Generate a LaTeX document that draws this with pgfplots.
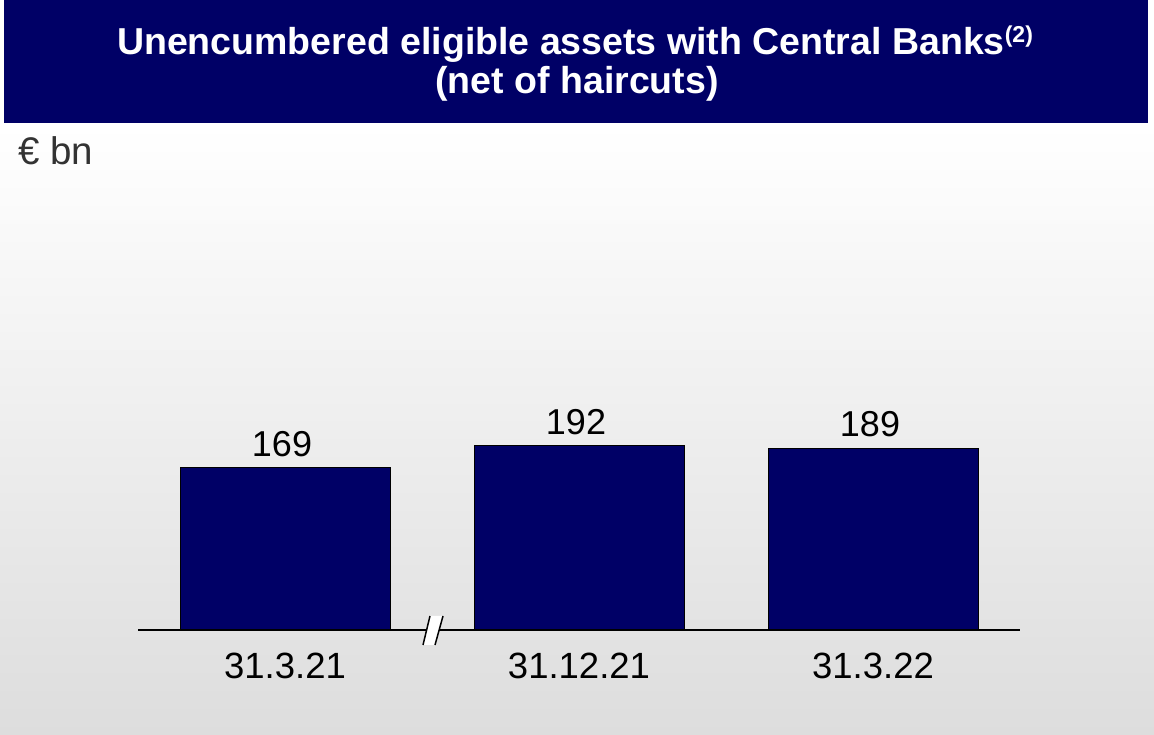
\documentclass[border=0pt]{standalone}
\usepackage{fontspec}
\setmainfont{Liberation Sans}
\usepackage{pgfplots}
\pgfplotsset{compat=1.18}
\definecolor{navy}{RGB}{0,0,102}
\definecolor{bgbottom}{RGB}{221,221,221}
\definecolor{txtgray}{RGB}{51,51,51}
\begin{document}
\begin{tikzpicture}[x=1pt,y=1pt]
\fill[white] (0,0) rectangle (1154,735);
\shade[top color=white,bottom color=bgbottom] (0,0) rectangle (1154,610);
\fill[navy] (4,612) rectangle (1148,735);
\node[anchor=base,text=white,font=\fontsize{37.5}{40}\selectfont\bfseries,inner sep=0pt] at (575,680) {Unencumbered eligible assets with Central Banks\raisebox{12pt}{\fontsize{23}{23}\selectfont(2)}};
\node[anchor=base,text=white,font=\fontsize{37.5}{40}\selectfont\bfseries,inner sep=0pt] at (577,641) {(net of haircuts)};
\node[anchor=base west,text=txtgray,font=\fontsize{38.5}{40}\selectfont,inner sep=0pt] at (18,570) {€ bn};
\begin{axis}[
  at={(138pt,105pt)}, anchor=south west,
  scale only axis, width=882pt, height=191.8pt,
  xmin=-0.5, xmax=2.5, ymin=0, ymax=200,
  clip=false,
  axis y line=none,
  axis x line*=bottom,
  x axis line style={line width=1.5pt,-,black},
  xtick={0,1,2},
  xticklabels={31.3.21,31.12.21,31.3.22},
  major tick length=0pt,
  xticklabel style={font=\fontsize{36.5}{40}\selectfont, inner sep=0pt, yshift=-23pt, text=black},
  /pgf/number format/assume math mode=true,
  ybar, bar width=210pt,
  nodes near coords,
  nodes near coords style={font=\fontsize{36}{40}\selectfont, inner sep=0pt, yshift=11pt, xshift=-3pt, text=black},
]
\addplot[fill=navy, draw=black, line width=1pt, bar shift=0pt] coordinates {(0,169) (1,192) (2,189)};
\end{axis}
\fill[white] (430,119) -- (443,119) -- (435,90) -- (423,90) -- cycle;
\draw[line width=1.5pt] (430,119) -- (423,90);
\draw[line width=1.5pt] (443,119) -- (435,90);
\end{tikzpicture}
\end{document}
